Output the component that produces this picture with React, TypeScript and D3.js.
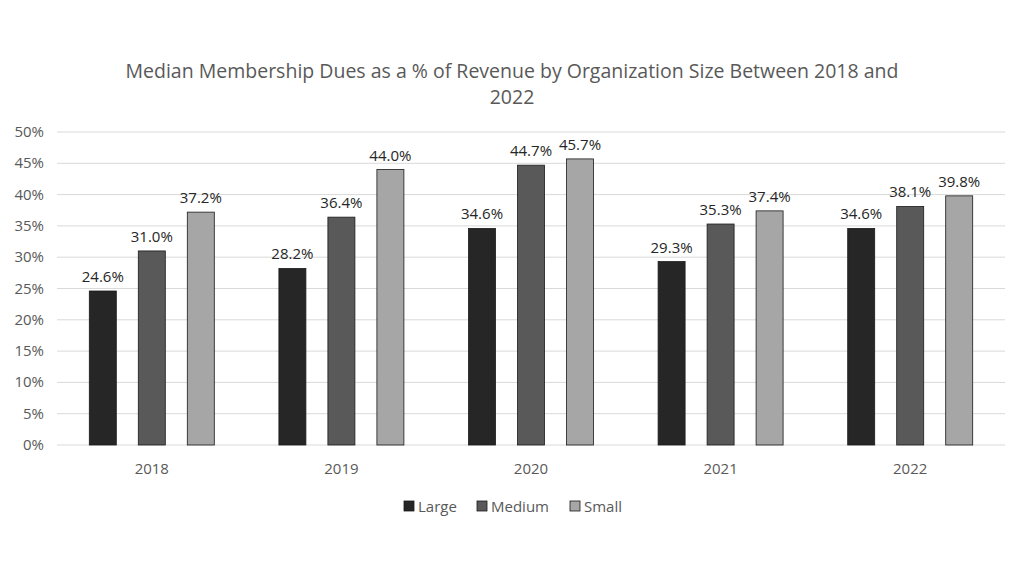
import React from "react";
import * as d3 from "d3";

const years = ["2018", "2019", "2020", "2021", "2022"];
const seriesNames = ["Large", "Medium", "Small"];
const large = [24.6, 28.2, 34.6, 29.3, 34.6];
const medium = [31.0, 36.4, 44.7, 35.3, 38.1];
const small = [37.2, 44.0, 45.7, 37.4, 39.8];
const yTicks = [0, 5, 10, 15, 20, 25, 30, 35, 40, 45, 50];
const colors = ["#262626", "#595959", "#a6a6a6"];

export default function App() {
  const W = 1024, H = 576;
  const left = 57, right = 1005, top = 132, bottom = 445;
  const x = d3.scaleBand<string>().domain(years).range([left, right]);
  const inner = d3.scalePoint<string>().domain(seriesNames).range([-49, 49]);
  const bw = 27;
  const y = d3.scaleLinear().domain([0, 50]).range([bottom, top]);
  const data = [large, medium, small];
  const font = "'Open Sans', 'Noto Sans', sans-serif";
  return (
    <svg width={W} height={H} style={{ position: "absolute", left: 0, top: 0, background: "#fff" }} fontFamily={font}>
      <text x={512} y={78} textAnchor="middle" fontSize={19.5} fill="#595959">
        Median Membership Dues as a % of Revenue by Organization Size Between 2018 and
      </text>
      <text x={512} y={104} textAnchor="middle" fontSize={19.5} fill="#595959">2022</text>
      {yTicks.map(t => (
        <g key={t}>
          <line x1={left} x2={right} y1={y(t)} y2={y(t)} stroke="#d9d9d9" />
          <text x={44} y={y(t) + 5} textAnchor="end" fontSize={15} fill="#595959">{t}%</text>
        </g>
      ))}
      {years.map((yr, i) => {
        const cx = x(yr)! + x.bandwidth() / 2;
        return (
          <g key={yr}>
            {seriesNames.map((s, j) => {
              const v = data[j][i];
              const bx = cx + inner(s)! - bw / 2;
              return (
                <g key={s}>
                  <rect x={bx} y={y(v)} width={bw} height={bottom - y(v)} fill={colors[j]} stroke="#1a1a1a" strokeWidth={0.8} />
                  <text x={bx + bw / 2} y={y(v) - 9} textAnchor="middle" fontSize={15} fill="#262626">{v.toFixed(1)}%</text>
                </g>
              );
            })}
            <text x={cx} y={474} textAnchor="middle" fontSize={15} fill="#595959">{yr}</text>
          </g>
        );
      })}
      {seriesNames.map((s, j) => {
        const lx = [404, 477, 570][j];
        return (
          <g key={s}>
            <rect x={lx} y={501} width={10} height={10} fill={colors[j]} stroke="#1a1a1a" strokeWidth={0.8} />
            <text x={lx + 14} y={512} fontSize={15} fill="#595959">{s}</text>
          </g>
        );
      })}
    </svg>
  );
}
